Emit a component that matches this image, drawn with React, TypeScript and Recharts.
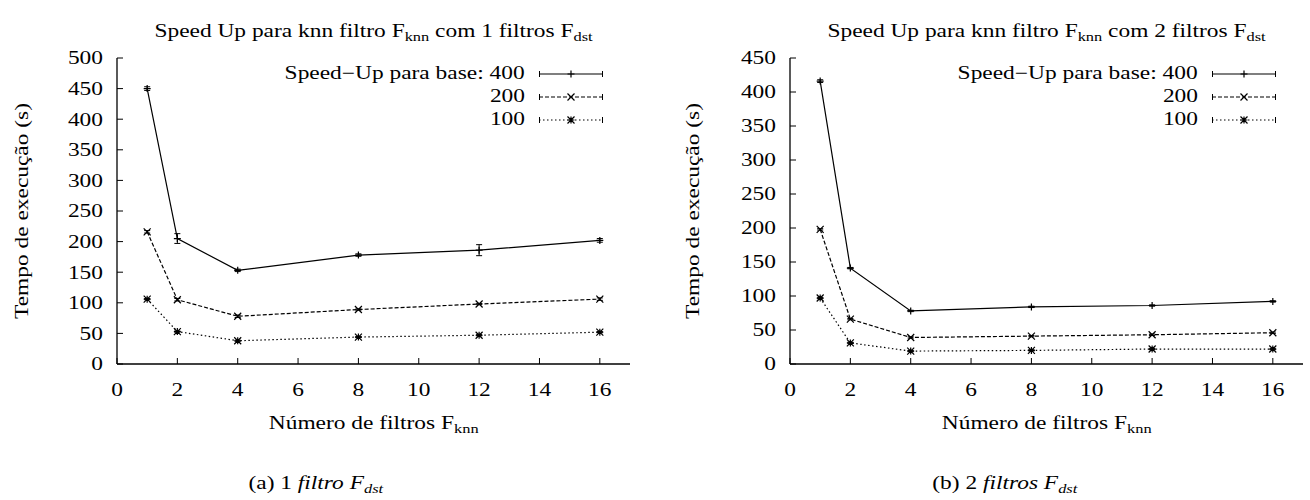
import React from 'react'
import { LineChart, Line, XAxis, YAxis, ErrorBar, Legend } from 'recharts'

// number of F_knn filters (x axis)
const filtros = [1, 2, 4, 8, 12, 16]
const xTicks = [0, 2, 4, 6, 8, 10, 12, 14, 16]

// (a) 1 filtro F_dst
const a400 = [450, 205, 153, 178, 186, 202]
const a400Err = [3, 8, 2, 2, 9, 3]
const a200 = [216, 105, 78, 89, 98, 106]
const a200Err = [2, 2, 2, 1, 1, 2]
const a100 = [106, 53, 38, 44, 47, 52]
const a100Err = [1, 1, 1, 1, 1, 1]
const aTicks = [0, 50, 100, 150, 200, 250, 300, 350, 400, 450, 500]

// (b) 2 filtros F_dst
const b400 = [416, 141, 78, 84, 86, 92]
const b400Err = [2, 1, 1, 1, 1, 1]
const b200 = [198, 66, 39, 41, 43, 46]
const b200Err = [1, 1, 1, 1, 1, 1]
const b100 = [97, 31, 19, 20, 22, 22]
const b100Err = [1, 1, 1, 1, 1, 1]
const bTicks = [0, 50, 100, 150, 200, 250, 300, 350, 400, 450]

const seriesNames = ['Speed\u2212Up para base: 400', '200', '100']

const FONT = '"Liberation Serif", "Times New Roman", serif'
const SX = 1.3
const W = 655
const H = 500
const PLOT_TOP = 58
const PLOT_BOTTOM = 364

const lineStyles = [
  { dash: undefined as string | undefined, marker: 'plus' },
  { dash: '4 2', marker: 'cross' },
  { dash: '1.5 2.5', marker: 'star' },
]

const markerPath = (kind: string, cx: number, cy: number) => {
  const s = 3.5
  const plus = `M${cx - s},${cy}H${cx + s}M${cx},${cy - s}V${cy + s}`
  const cross = `M${cx - s},${cy - s}L${cx + s},${cy + s}M${cx - s},${cy + s}L${cx + s},${cy - s}`
  if (kind === 'plus') return plus
  if (kind === 'cross') return cross
  return plus + cross
}

const makeDot = (kind: string) => (p: any) => {
  if (p.cx == null || p.cy == null) return <g key={p.index} />
  return (
    <path key={p.index} d={markerPath(kind, p.cx, p.cy)} stroke="#000" strokeWidth={1.2} fill="none" />
  )
}

const SerifTick = (props: any) => {
  const { x, y, payload, textAnchor } = props
  return (
    <text
      x={x}
      y={y}
      dy="0.355em"
      textAnchor={textAnchor}
      style={{ fontFamily: FONT, fontSize: 18 }}
      fill="#000"
      transform={`translate(${x} ${y}) scale(${SX} 1) translate(${-x} ${-y})`}
    >
      {payload.value}
    </text>
  )
}

const Stretch = ({ children, origin = 'center' }: { children: React.ReactNode; origin?: string }) => (
  <span style={{ display: 'inline-block', transform: `scaleX(${SX})`, transformOrigin: origin, whiteSpace: 'nowrap' }}>
    {children}
  </span>
)

const Sub = ({ children, italic }: { children: React.ReactNode; italic?: boolean }) => (
  <span style={{ fontSize: '0.7em', verticalAlign: '-0.35em', fontStyle: italic ? 'italic' : 'normal' }}>{children}</span>
)

const LegendBox = (props: any) => {
  const entries = [...(props.payload || [])].sort(
    (a: any, b: any) => seriesNames.indexOf(a.value) - seriesNames.indexOf(b.value)
  )
  return (
    <div style={{ fontFamily: FONT, fontSize: 18 }}>
      {entries.map((entry: any) => {
        const st = lineStyles[seriesNames.indexOf(entry.value)] || lineStyles[0]
        return (
          <div key={entry.value} style={{ display: 'flex', alignItems: 'center', height: 23 }}>
            <div style={{ width: 250, textAlign: 'right', lineHeight: '23px' }}>
              <Stretch origin="right">{entry.value}</Stretch>
            </div>
            <svg width={64} height={12} style={{ marginLeft: 14 }}>
              <line x1={0} y1={6} x2={64} y2={6} stroke="#000" strokeWidth={1.1} strokeDasharray={st.dash} />
              <line x1={0.5} y1={3} x2={0.5} y2={9} stroke="#000" strokeWidth={1} />
              <line x1={63.5} y1={3} x2={63.5} y2={9} stroke="#000" strokeWidth={1} />
              <path d={markerPath(st.marker, 32, 6)} stroke="#000" strokeWidth={1.2} fill="none" />
            </svg>
          </div>
        )
      })}
    </div>
  )
}

interface PanelProps {
  left: number
  yWidth: number
  marginRight: number
  yMax: number
  yTicks: number[]
  s400: number[]
  e400: number[]
  s200: number[]
  e200: number[]
  s100: number[]
  e100: number[]
  nFdst: number
  ylabelX: number
  captionX: number
  caption: React.ReactNode
}

function Panel(p: PanelProps) {
  const data = filtros.map((f, i) => ({
    f,
    v400: p.s400[i],
    err400: p.e400[i],
    v200: p.s200[i],
    err200: p.e200[i],
    v100: p.s100[i],
    err100: p.e100[i],
  }))
  const plotLeft = p.yWidth
  const plotRight = W - p.marginRight
  const plotCenter = (plotLeft + plotRight) / 2
  const textBase: React.CSSProperties = {
    position: 'absolute',
    fontFamily: FONT,
    fontSize: 18,
    lineHeight: '20px',
    color: '#000',
    whiteSpace: 'nowrap',
  }

  return (
    <div style={{ position: 'absolute', left: p.left, top: 0, width: W, height: H }}>
      <div style={{ ...textBase, top: 21, left: plotCenter - 300, width: 600, textAlign: 'center' }}>
        <Stretch>
          Speed Up para knn filtro F<Sub>knn</Sub> com {p.nFdst} filtros F<Sub>dst</Sub>
        </Stretch>
      </div>
      <LineChart
        width={W}
        height={H}
        data={data}
        margin={{ top: PLOT_TOP, right: p.marginRight, left: 0, bottom: H - PLOT_BOTTOM - 40 }}
      >
        <XAxis
          xAxisId="bottom"
          dataKey="f"
          type="number"
          domain={[0, 17]}
          ticks={xTicks}
          height={40}
          tickSize={-6}
          tickMargin={32}
          tick={<SerifTick />}
          stroke="#000"
          axisLine={{ stroke: '#000', strokeWidth: 1.3 }}
          tickLine={{ stroke: '#000' }}
          interval={0}
        />
        <XAxis
          xAxisId="top"
          orientation="top"
          type="number"
          domain={[0, 17]}
          ticks={xTicks}
          height={0}
          tickSize={-6}
          tick={false}
          axisLine={{ stroke: '#000', strokeWidth: 1.3 }}
          tickLine={{ stroke: '#000' }}
          interval={0}
        />
        <YAxis
          yAxisId="left"
          type="number"
          domain={[0, p.yMax]}
          ticks={p.yTicks}
          width={p.yWidth}
          tickSize={-6}
          tickMargin={20}
          tick={<SerifTick />}
          axisLine={{ stroke: '#000', strokeWidth: 1.3 }}
          tickLine={{ stroke: '#000' }}
          interval={0}
        />
        <YAxis
          yAxisId="right"
          orientation="right"
          type="number"
          domain={[0, p.yMax]}
          ticks={p.yTicks}
          width={0}
          tickSize={-6}
          tick={false}
          axisLine={{ stroke: '#000', strokeWidth: 1.3 }}
          tickLine={{ stroke: '#000' }}
          interval={0}
        />
        <Legend
          layout="vertical"
          align="center"
          verticalAlign="middle"
          content={<LegendBox />}
          wrapperStyle={{ position: 'absolute', left: plotRight - 355, top: 62, width: 330 }}
        />
        <Line
          xAxisId="bottom"
          yAxisId="left"
          type="linear"
          dataKey="v400"
          name={seriesNames[0]}
          stroke="#000"
          strokeWidth={1.2}
          dot={makeDot('plus')}
          activeDot={false}
          isAnimationActive={false}
        >
          <ErrorBar dataKey="err400" direction="y" width={3} stroke="#000" strokeWidth={1} isAnimationActive={false} />
        </Line>
        <Line
          xAxisId="bottom"
          yAxisId="left"
          type="linear"
          dataKey="v200"
          name={seriesNames[1]}
          stroke="#000"
          strokeWidth={1.2}
          strokeDasharray={lineStyles[1].dash}
          dot={makeDot('cross')}
          activeDot={false}
          isAnimationActive={false}
        >
          <ErrorBar dataKey="err200" direction="y" width={3} stroke="#000" strokeWidth={1} isAnimationActive={false} />
        </Line>
        <Line
          xAxisId="bottom"
          yAxisId="left"
          type="linear"
          dataKey="v100"
          name={seriesNames[2]}
          stroke="#000"
          strokeWidth={1.2}
          strokeDasharray={lineStyles[2].dash}
          dot={makeDot('star')}
          activeDot={false}
          isAnimationActive={false}
        >
          <ErrorBar dataKey="err100" direction="y" width={3} stroke="#000" strokeWidth={1} isAnimationActive={false} />
        </Line>
      </LineChart>
      <div
        style={{
          ...textBase,
          left: p.ylabelX,
          top: (PLOT_TOP + PLOT_BOTTOM) / 2,
          transform: `translate(-50%, -50%) rotate(-90deg) scaleX(${SX})`,
        }}
      >
        Tempo de execução (s)
      </div>
      <div style={{ ...textBase, top: 413, left: plotCenter - 300, width: 600, textAlign: 'center' }}>
        <Stretch>
          Número de filtros F<Sub>knn</Sub>
        </Stretch>
      </div>
      <div style={{ ...textBase, top: 473, left: p.captionX - 200, width: 400, textAlign: 'center' }}>
        <Stretch>{p.caption}</Stretch>
      </div>
    </div>
  )
}

export default function App() {
  return (
    <div style={{ position: 'absolute', left: 0, top: 0, width: 1310, height: 500, background: '#fff', overflow: 'hidden' }}>
      <Panel
        left={0}
        yWidth={117}
        marginRight={25}
        yMax={500}
        yTicks={aTicks}
        s400={a400}
        e400={a400Err}
        s200={a200}
        e200={a200Err}
        s100={a100}
        e100={a100Err}
        nFdst={1}
        ylabelX={22}
        captionX={316}
        caption={
          <>
            (a) 1 <i>filtro F</i>
            <Sub italic>dst</Sub>
          </>
        }
      />
      <Panel
        left={655}
        yWidth={135}
        marginRight={7}
        yMax={450}
        yTicks={bTicks}
        s400={b400}
        e400={b400Err}
        s200={b200}
        e200={b200Err}
        s100={b100}
        e100={b100Err}
        nFdst={2}
        ylabelX={38}
        captionX={350}
        caption={
          <>
            (b) 2 <i>filtros F</i>
            <Sub italic>dst</Sub>
          </>
        }
      />
    </div>
  )
}
